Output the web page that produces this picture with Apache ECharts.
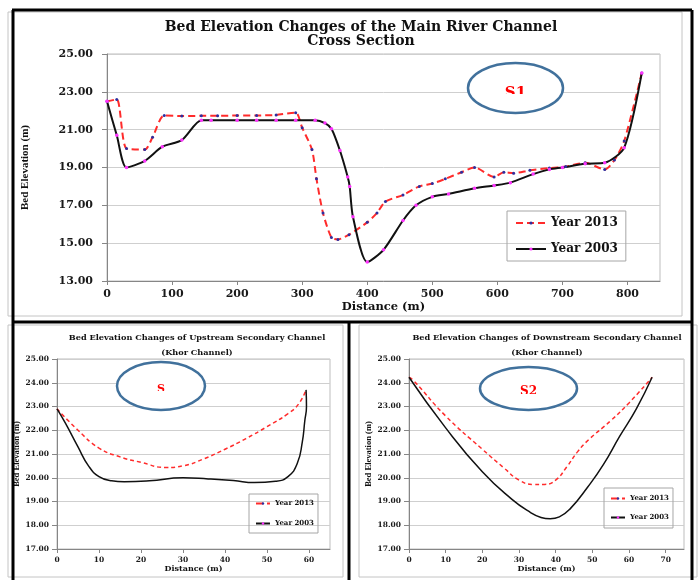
<!DOCTYPE html>
<html>
<head>
<meta charset="utf-8">
<script src="https://cdn.jsdelivr.net/npm/echarts@6/dist/echarts.min.js"></script>
<style>
  html, body { margin: 0; padding: 0; background: #fff; }
  #chart { width: 698px; height: 580px; }
</style>
</head>
<body>
<div id="chart"></div>
<script>
// legend names
const years = ['Year 2013', 'Year 2003']

// S1 - main river channel
const s1Dist2013 = [0, 15, 30, 58, 70, 88, 115, 145, 170, 200, 230, 260, 290, 300, 315, 322, 332, 345, 355, 372, 400, 415, 428, 455, 480, 500, 520, 545, 565, 595, 610, 625, 650, 680, 705, 735, 765, 780, 795, 822]
const s1Elev2013 = [22.5, 22.6, 20.0, 19.95, 20.6, 21.75, 21.72, 21.73, 21.73, 21.75, 21.75, 21.78, 21.9, 21.1, 19.95, 18.4, 16.6, 15.3, 15.2, 15.45, 16.1, 16.6, 17.2, 17.55, 18.0, 18.15, 18.4, 18.75, 19.0, 18.5, 18.75, 18.7, 18.85, 18.97, 19.05, 19.25, 18.9, 19.4, 20.4, 24.0]
const s1Dist2003 = [0, 15, 30, 58, 85, 115, 145, 160, 200, 230, 260, 290, 320, 335, 345, 358, 370, 373, 378, 400, 425, 455, 475, 500, 525, 565, 595, 620, 655, 680, 700, 735, 765, 795, 822]
const s1Elev2003 = [22.5, 20.7, 19.0, 19.35, 20.1, 20.45, 21.5, 21.5, 21.5, 21.5, 21.5, 21.5, 21.5, 21.35, 21.05, 19.9, 18.5, 18.0, 16.4, 14.0, 14.65, 16.2, 17.0, 17.45, 17.6, 17.9, 18.05, 18.2, 18.65, 18.9, 19.0, 19.2, 19.25, 20.05, 24.0]

// upstream secondary channel
const upDist2013 = [0, 5, 10, 15, 20, 26, 30, 35, 40, 45, 50, 55, 57.5, 59.3]
const upElev2013 = [22.9, 22.0, 21.25, 20.88, 20.65, 20.43, 20.5, 20.8, 21.2, 21.65, 22.15, 22.7, 23.1, 23.7]
const upDist2003 = [0, 2, 5, 7.5, 10, 13, 16, 22, 30, 36, 42, 47, 52, 55, 57.2, 58.4, 59, 59.4, 59.3]
const upElev2003 = [22.9, 22.3, 21.3, 20.5, 20.05, 19.87, 19.83, 19.87, 20.0, 19.95, 19.88, 19.8, 19.85, 20.05, 20.6, 21.5, 22.4, 23.0, 23.7]

// downstream secondary channel
const dnDist2013 = [0, 1.2, 10, 20, 26, 30, 34, 37, 40, 43, 46, 49, 55, 60, 66.3]
const dnElev2013 = [24.23, 24.1, 22.6, 21.2, 20.4, 19.9, 19.72, 19.72, 19.9, 20.45, 21.1, 21.6, 22.4, 23.15, 24.23]
const dnDist2003 = [0, 10, 20, 28, 33, 36, 38.5, 41, 44, 48.7, 53, 57.4, 62, 66.3]
const dnElev2003 = [24.23, 22.1, 20.25, 19.1, 18.55, 18.33, 18.27, 18.35, 18.7, 19.6, 20.55, 21.73, 22.9, 24.23]

function pairs(xs, ys) {
  return xs.map((x, i) => [x, ys[i]])
}

const horiz = 'DejaVu Serif'
const vert = 'Liberation Serif'

function makeX(gridIndex, max, fs, gap, margin) {
  return {
    type: 'value', gridIndex, min: 0, max, interval: 10 * (max > 100 ? 10 : 1),
    name: 'Distance (m)', nameLocation: 'middle', nameGap: gap,
    nameTextStyle: { fontFamily: horiz, fontWeight: 'bold', fontSize: fs + 0.5, color: '#111' },
    axisLine: { onZero: false, lineStyle: { color: '#868686' } },
    axisTick: { show: true, length: 4, lineStyle: { color: '#868686' } },
    axisLabel: { margin, showMaxLabel: false, fontFamily: horiz, fontWeight: 'bold', fontSize: fs, color: '#1a1a1a' },
    splitLine: { show: false }
  }
}
function makeY(gridIndex, min, max, interval, fs, nfs, gap, margin) {
  return {
    type: 'value', gridIndex, min, max, interval,
    name: 'Bed Elevation (m)', nameLocation: 'middle', nameGap: gap,
    nameTextStyle: { fontFamily: vert, fontWeight: 'bold', fontSize: nfs, color: '#111' },
    axisLine: { show: true, lineStyle: { color: '#868686' } },
    axisTick: { show: true, length: 5, lineStyle: { color: '#868686' } },
    axisLabel: { margin, fontFamily: horiz, fontWeight: 'bold', fontSize: fs, color: '#1a1a1a', formatter: v => v.toFixed(2) },
    splitLine: { lineStyle: { color: '#cfcfcf' } }
  }
}

function line13(xi, data, w, dash, smooth, sym) {
  return {
    name: years[0], type: 'line', xAxisIndex: xi, yAxisIndex: xi, data, smooth,
    symbol: 'circle', symbolSize: sym, showSymbol: sym > 0,
    itemStyle: { color: '#2e2e9e' },
    lineStyle: { color: '#ff2b2b', width: w, type: dash },
    emphasis: { disabled: true }
  }
}
function line03(xi, data, w, smooth, sym) {
  return {
    name: years[1], type: 'line', xAxisIndex: xi, yAxisIndex: xi, data, smooth,
    symbol: 'circle', symbolSize: sym, showSymbol: sym > 0,
    itemStyle: { color: '#ff33ff' },
    lineStyle: { color: '#111', width: w },
    emphasis: { disabled: true }
  }
}

function oval(cx, cy, rx, ry, label, fs, ty, cutY) {
  return [
    { type: 'ellipse', z: 50, shape: { cx, cy, rx, ry }, style: { fill: '#fff' } },
    { type: 'text', z: 51, x: cx, y: ty, style: { text: label, fill: '#ff0000', font: 'bold ' + fs + 'px ' + horiz, align: 'center', verticalAlign: 'top', textAlign: 'center', textVerticalAlign: 'top' } },
    { type: 'rect', z: 52, shape: { x: cx - rx * 0.6, y: cutY, width: rx * 1.2, height: cy + ry - 3 - cutY }, style: { fill: '#fff' } },
    { type: 'ellipse', z: 53, shape: { cx, cy, rx, ry }, style: { fill: null, stroke: '#41719c', lineWidth: 2.5 } }
  ]
}
function frame(x1, y1, x2, y2) {
  return { type: 'line', z: 60, shape: { x1, y1, x2, y2 }, style: { stroke: '#000', lineWidth: 3 } }
}
function box(x, y, width, height) {
  return { type: 'rect', z: 1, shape: { x, y, width, height }, style: { fill: null, stroke: '#c4c4c4', lineWidth: 1 } }
}

const legendText = fs => ({ fontFamily: horiz, fontWeight: 'bold', fontSize: fs, color: '#111' })

const chart = echarts.init(document.getElementById('chart'))
chart.setOption({
  animation: false,
  backgroundColor: '#fff',
  title: [
    { text: 'Bed Elevation Changes of the Main River Channel\nCross Section', left: 361, top: 20, padding: 0, textAlign: 'center',
      textStyle: { fontFamily: horiz, fontWeight: 'bold', fontSize: 14, lineHeight: 14, color: '#111' } },
    { text: 'Bed Elevation Changes of Upstream Secondary Channel\n(Khor Channel)', left: 197, top: 330, padding: 0, textAlign: 'center',
      textStyle: { fontFamily: horiz, fontWeight: 'bold', fontSize: 8.2, lineHeight: 15, color: '#111' } },
    { text: 'Bed Elevation Changes of Downstream Secondary Channel\n(Khor Channel)', left: 547, top: 330, padding: 0, textAlign: 'center',
      textStyle: { fontFamily: horiz, fontWeight: 'bold', fontSize: 8.2, lineHeight: 15, color: '#111' } }
  ],
  legend: [
    { data: years, orient: 'vertical', left: 507, top: 211, padding: [6, 8, 6, 8], itemGap: 14,
      itemWidth: 30, itemHeight: 4, borderColor: '#a6a6a6', borderWidth: 1, textStyle: legendText(12) },
    { data: years, orient: 'vertical', left: 249, top: 494, padding: [6, 4, 6, 6], itemGap: 13,
      itemWidth: 14, itemHeight: 3, borderColor: '#a6a6a6', borderWidth: 1, textStyle: legendText(7) },
    { data: years, orient: 'vertical', left: 604, top: 488, padding: [7, 4, 7, 6], itemGap: 12,
      itemWidth: 14, itemHeight: 3, borderColor: '#a6a6a6', borderWidth: 1, textStyle: legendText(7) }
  ],
  grid: [
    { left: 107, top: 54, width: 553, height: 227, show: true, borderColor: '#bdbdbd', outerBoundsMode: 'none' },
    { left: 57, top: 359, width: 273, height: 190, show: true, borderColor: '#bdbdbd', outerBoundsMode: 'none' },
    { left: 409, top: 359, width: 275, height: 190, show: true, borderColor: '#bdbdbd', outerBoundsMode: 'none' }
  ],
  xAxis: [
    makeX(0, 850, 11, 20, 8),
    makeX(1, 65, 7.5, 13, 7),
    makeX(2, 75, 7.5, 13, 7)
  ],
  yAxis: [
    makeY(0, 13, 25, 2, 11, 11, 76, 14),
    makeY(1, 17, 25, 1, 7.5, 8.5, 35, 8),
    makeY(2, 17, 25, 1, 7.5, 8.5, 35, 8)
  ],
  series: [
    line13(0, pairs(s1Dist2013, s1Elev2013), 2, [7, 4], 0.25, 3),
    line03(0, pairs(s1Dist2003, s1Elev2003), 2, 0.25, 3.5),
    line13(1, pairs(upDist2013, upElev2013), 1.5, [4, 3], 0.5, 0),
    line03(1, pairs(upDist2003, upElev2003), 1.5, 0.5, 0),
    line13(2, pairs(dnDist2013, dnElev2013), 1.5, [4, 3], 0.5, 0),
    line03(2, pairs(dnDist2003, dnElev2003), 1.5, 0.5, 0)
  ],
  graphic: [
    box(8, 12, 674, 304),
    box(8, 325, 335, 252),
    box(359, 325, 338, 252),
    ...oval(515.5, 88, 47.5, 25, 'S1', 15, 86, 94),
    ...oval(161, 386, 44, 24, 'S', 11, 383.5, 391),
    ...oval(528.5, 388.5, 48.5, 21.5, 'S2', 12, 385.5, 394),
    frame(13, 10, 13, 580),
    frame(12, 10, 692, 10),
    frame(692, 10, 692, 580),
    frame(12, 322, 692, 322),
    frame(349, 322, 349, 580)
  ]
})
</script>
</body>
</html>
